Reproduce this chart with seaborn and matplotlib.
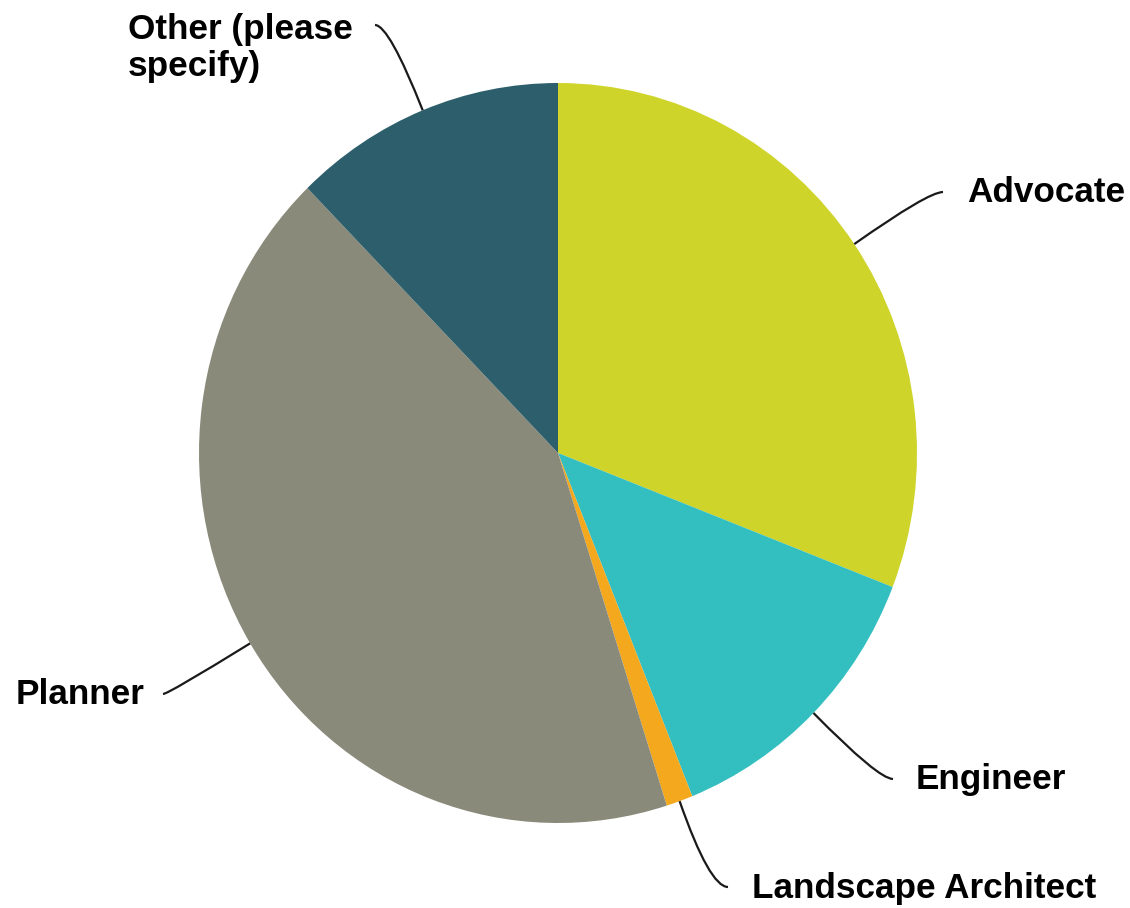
import numpy as np
import matplotlib
matplotlib.use("Agg")
import matplotlib.pyplot as plt
from matplotlib.path import Path
from matplotlib.patches import PathPatch
import seaborn as sns

# Survey responses: share of respondents by profession (%)
categories = ["Advocate", "Engineer", "Landscape Architect", "Planner", "Other (please\nspecify)"]
shares = [30.9, 13.0, 1.2, 42.6, 12.3]
slice_colors = ["#CFD42A", "#33BEC0", "#F4A81D", "#8A8A7A", "#2D5E6B"]

sns.set_theme(style="white")
plt.rcParams["font.family"] = ["Liberation Sans", "DejaVu Sans"]

W, H, DPI = 1130, 908, 100
fig = plt.figure(figsize=(W / DPI, H / DPI), dpi=DPI)
ax = fig.add_axes([0, 0, 1, 1])

palette = sns.color_palette(slice_colors)
wedges, _ = ax.pie(shares, colors=palette, startangle=90, counterclock=False,
                   radius=1.0, center=(0, 0),
                   wedgeprops=dict(linewidth=0, antialiased=True))

# pixel-to-data frame: pie centre at (558, 453), radii 359 px (x) and 370 px (y)
cx, cy, rx, ry = 558, 453, 359, 370
ax.set_aspect("auto")
ax.set_xlim(-cx / rx, (W - cx) / rx)
ax.set_ylim((cy - H) / ry, cy / ry)
ax.axis("off")


def px(x, y):
    return (x - cx) / rx, (cy - y) / ry


# label text anchors (pixel positions, last-line baseline) and leader-line ends
label_layout = {
    "Advocate": dict(text=(967, 202), ha="left", end=(943, 192)),
    "Engineer": dict(text=(916, 789), ha="left", end=(893, 779)),
    "Landscape Architect": dict(text=(752, 898), ha="left", end=(728, 887)),
    "Planner": dict(text=(144, 704), ha="right", end=(163, 694)),
    "Other (please\nspecify)": dict(text=(128, 76), ha="left", end=(375, 25)),
}

for wedge, name in zip(wedges, categories):
    mid = np.deg2rad((wedge.theta1 + wedge.theta2) / 2)
    sx, sy = np.cos(mid), np.sin(mid)
    lay = label_layout[name]
    ex, ey = px(*lay["end"])
    # control point: continue radially until reaching the end's height
    s = ey / sy if abs(sy) > 1e-6 else 1.0
    s = max(s, 1.0)
    ctrl = (np.cos(mid) * s, np.sin(mid) * s)
    path = Path([(sx, sy), ctrl, (ex, ey)], [Path.MOVETO, Path.CURVE3, Path.CURVE3])
    ax.add_patch(PathPatch(path, facecolor="none", edgecolor="#1a1a1a", lw=1.6))

    tx, ty = px(*lay["text"])
    ax.text(tx, ty, name, ha=lay["ha"], va="baseline", fontsize=25.3,
            fontweight="bold", color="black", linespacing=1.16)

fig.savefig("out.png", dpi=DPI, facecolor="white")
